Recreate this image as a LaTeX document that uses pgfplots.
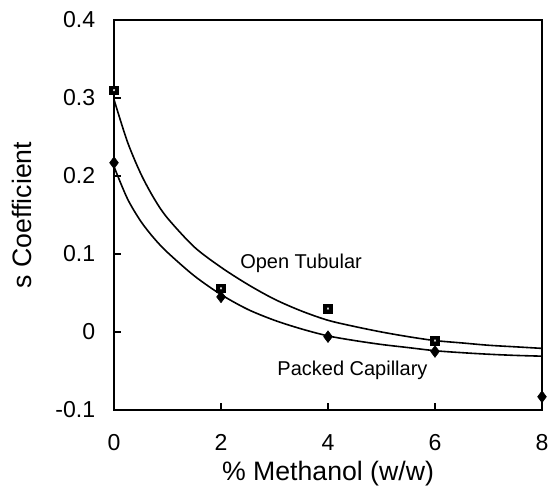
\documentclass[border=0pt]{standalone}
\usepackage{fontspec}
\setmainfont{Liberation Sans}
\usepackage{pgfplots}
\pgfplotsset{compat=1.18}

\begin{document}
\begin{tikzpicture}
\begin{axis}[
  scale only axis,
  width=321pt, height=292.5pt,
  xmin=0, xmax=8, ymin=-0.1, ymax=0.4,
  xtick={0,2,4,6,8},
  ytick={-0.1,0,0.1,0.2,0.3,0.4},
  axis line style={line width=1.2pt},
  tick style={black, line width=1pt},
  major tick length=5pt,
  tick align=inside,
  xtick pos=bottom, ytick pos=left,
  /pgf/number format/assume math mode=true,
  tick label style={font=\fontsize{17.3}{20}\selectfont, inner sep=0pt},
  xticklabel style={anchor=north, yshift=-18pt},
  yticklabel style={anchor=east, xshift=-14pt},
  xlabel={\% Methanol (w/w)},
  ylabel={s Coefficient},
  label style={font=\fontsize{20}{24}\selectfont, inner sep=0pt},
  xlabel style={at={(rel axis cs:0.5,-0.163)}, anchor=center},
  ylabel style={at={(rel axis cs:-0.215,0.5)}, anchor=center},
  clip=false,
]
  % keep the page the size of the reference
  \path (rel axis cs:-0.2664,-0.1949) rectangle (rel axis cs:1.0187,1.0513);

  % fitted curves
  \addplot[black, line width=1.2pt, smooth] coordinates {
    (0,0.298)(0.25,0.244)(0.5,0.203)(0.75,0.171)(1,0.146)(1.5,0.109)(2,0.083)
    (2.5,0.061)(3,0.042)(3.5,0.027)(4,0.015)(4.5,0.007)(5,0.000)(5.5,-0.006)
    (6,-0.011)(6.5,-0.014)(7,-0.017)(7.5,-0.019)(8,-0.021)};
  \addplot[black, line width=1.2pt, smooth] coordinates {
    (0,0.212)(0.25,0.171)(0.5,0.142)(0.75,0.120)(1,0.102)(1.5,0.072)(2,0.048)
    (2.5,0.029)(3,0.015)(3.5,0.004)(4,-0.005)(4.5,-0.011)(5,-0.016)(5.5,-0.020)
    (6,-0.024)(6.5,-0.0265)(7,-0.0285)(7.5,-0.030)(8,-0.031)};

  % Open Tubular data
  \addplot[only marks, mark=square*, mark size=3.3pt, mark options={fill=black, draw=black}]
    coordinates {(0,0.310)(2,0.056)(4,0.030)(6,-0.011)};
  \addplot[only marks, mark=x, mark size=0.9pt, mark options={draw=white, line width=0.4pt}]
    coordinates {(0,0.310)(2,0.056)(4,0.030)(6,-0.011)};

  % Packed Capillary data
  \addplot[only marks, mark=diamond*, mark size=4.4pt, mark options={fill=black, draw=black}]
    coordinates {(0,0.217)(2,0.045)(4,-0.006)(6,-0.025)(8,-0.083)};

  \node[anchor=west, inner sep=0pt, font=\fontsize{15}{18}\selectfont] at (axis cs:2.355,0.088) {Open Tubular};
  \node[anchor=west, inner sep=0pt, font=\fontsize{15}{18}\selectfont] at (axis cs:3.05,-0.049) {Packed Capillary};
\end{axis}
\end{tikzpicture}
\end{document}
